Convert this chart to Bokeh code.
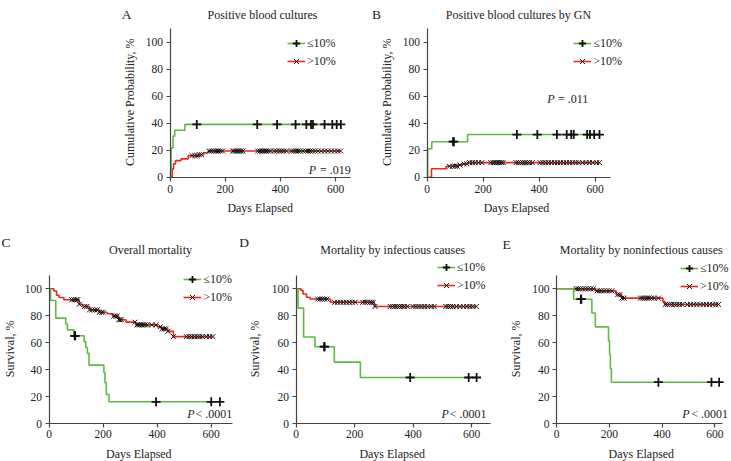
import numpy as np
from bokeh.plotting import figure
from bokeh.models import Range1d, Label, Legend, LegendItem
from bokeh.layouts import row, column
from bokeh.embed import file_html
from bokeh.resources import INLINE

FONT = "Liberation Serif"
GREEN = "#62b846"
RED = "#e8291c"
INK = "#222222"
AXC = "#444444"

LEG_LOW = "≤10%"
LEG_HIGH = ">10%"
X_TICKS = [0, 200, 400, 600]
Y_TICKS = [0, 20, 40, 60, 80, 100]

# ---- Panel A: Positive blood cultures (cumulative probability, %) ----
a_le_t = [0, 2, 4, 11, 17, 54]
a_le_v = [0, 4.3, 21.7, 30.4, 34.8, 39.1]
a_le_cens = [97, 316, 388, 455, 494, 511, 518, 560, 588, 604, 619]
a_gt_t = [0, 8, 13, 20, 40, 66, 105, 122, 138]
a_gt_v = [0, 6.2, 9.9, 12.3, 13.6, 16.0, 16.7, 18.1, 19.4]
a_gt_cens = [80, 90, 98, 106, 114, 142, 150, 158, 166, 174, 182, 190, 228, 234, 240,
             246, 252, 258, 264, 318, 326, 334, 340, 348, 356, 364, 378, 386, 396, 404,
             412, 422, 440, 448, 456, 464, 472, 482, 492, 500, 508, 516, 526, 536, 548,
             560, 572, 584, 596, 608, 618]

# ---- Panel B: Positive blood cultures by GN ----
b_le_t = [0, 2, 17, 145]
b_le_v = [0, 21.1, 26.3, 31.6]
b_le_cens = [93, 96, 321, 394, 464, 499, 515, 524, 572, 582, 597, 616]
b_gt_t = [0, 16, 68, 110, 125, 145]
b_gt_v = [0, 6.3, 8.1, 9.0, 9.9, 10.8]
b_gt_cens = [80, 92, 100, 108, 118, 132, 142, 152, 162, 172, 184, 196, 228, 236, 242,
             248, 254, 260, 266, 272, 318, 326, 334, 342, 350, 358, 366, 376, 404, 414,
             424, 434, 444, 456, 466, 476, 488, 498, 510, 520, 532, 542, 556, 568, 580,
             592, 606, 616]

# ---- Panel C: Overall mortality (survival, %) ----
c_le_t = [0, 6, 25, 62, 68, 92, 130, 136, 142, 148, 203, 207, 212, 222]
c_le_v = [100, 91.3, 78.3, 73.9, 69.6, 65.2, 60.9, 56.5, 52.2, 43.5, 38.0, 30.4, 21.7, 16.3]
c_le_cens = [95, 97, 396, 600, 632]
c_gt_t = [0, 18, 28, 37, 55, 112, 124, 150, 185, 215, 235, 258, 285, 320, 400, 415, 440, 460]
c_gt_v = [100, 98.4, 95.2, 93.6, 91.9, 88.6, 86.9, 84.4, 82.6, 81.5, 79.8, 77.1, 75.3,
          73.3, 71.9, 70.3, 68.5, 64.6]
c_gt_cens = [84, 92, 100, 106, 112, 132, 140, 150, 160, 170, 178, 186, 194, 200, 240,
             246, 252, 258, 262, 268, 318, 326, 332, 338, 344, 350, 356, 364, 380, 396,
             412, 418, 426, 432, 440, 460, 508, 518, 528, 538, 548, 558, 568, 582, 594, 606]

# ---- Panel D: Mortality by infectious causes ----
d_le_t = [0, 7, 26, 65, 131, 220]
d_le_v = [100, 85.7, 64.3, 57.1, 45.7, 34.3]
d_le_cens = [96, 98, 390, 590, 617]
d_gt_t = [0, 17, 24, 36, 48, 118, 268]
d_gt_v = [100, 98.7, 96.2, 93.7, 92.4, 90.0, 86.9]
d_gt_cens = [74, 82, 90, 98, 106, 132, 142, 152, 162, 172, 182, 192, 202, 228, 236,
             244, 252, 258, 264, 270, 322, 330, 338, 346, 354, 362, 370, 380, 400, 410,
             420, 430, 440, 450, 462, 472, 512, 520, 528, 536, 548, 560, 572, 584, 594,
             604, 616]

# ---- Panel E: Mortality by noninfectious causes ----
e_le_t = [0, 65, 134, 147, 197, 201, 204, 208]
e_le_v = [100, 92.3, 82.1, 71.8, 61.5, 51.3, 41.0, 30.8]
e_le_cens = [92, 94, 386, 587, 616]
e_gt_t = [0, 147, 226, 247, 403, 410]
e_gt_v = [100, 98.5, 95.7, 93.1, 90.6, 88.4]
e_gt_cens = [74, 82, 90, 100, 110, 120, 130, 140, 154, 162, 170, 180, 190, 200, 210,
             232, 240, 248, 256, 318, 326, 334, 342, 350, 360, 370, 386, 412, 420, 428,
             436, 446, 456, 466, 476, 496, 508, 520, 532, 544, 556, 568, 580, 592, 604, 614]


def value_at(times, values, days):
    idx = np.searchsorted(np.asarray(times), np.asarray(days), side="right") - 1
    return np.asarray(values, dtype=float)[idx]


def add_group(p, times, values, cens, color, marker, msize, mwidth):
    end = max(cens)
    xs = list(times) + [end]
    ys = list(values) + [values[-1]]
    line = p.step(xs, ys, mode="after", line_color=color, line_width=1.6)
    cy = value_at(times, values, cens)
    sc = p.scatter(cens, cy, marker=marker, size=msize, line_color="#111111",
                   line_width=mwidth, fill_color=None)
    return line, sc


def text(p, x, y, s, size="12px", align="center", style="normal", angle=0.0):
    p.add_layout(Label(x=x, y=y, text=s, text_font=FONT, text_font_size=size,
                       text_font_style=style, text_color=INK, text_align=align,
                       text_baseline="middle", angle=angle))


def panel(rect, geo, x_end, le, gt, spec):
    L, R, T, B = rect
    x0, kx, y0, ky = geo

    def X(px):
        return (px - x0) / kx

    def Y(py):
        return (y0 - py) / ky

    p = figure(width=R - L, height=B - T, output_backend="svg", toolbar_location=None,
               title=None, min_border=0, min_border_left=0, min_border_right=0,
               min_border_top=0, min_border_bottom=0,
               x_range=Range1d(X(L), X(R)), y_range=Range1d(Y(B), Y(T)))
    p.outline_line_color = None
    p.grid.visible = False
    p.background_fill_color = "white"
    p.border_fill_color = "white"

    for ax in (p.xaxis[0], p.yaxis[0]):
        ax.fixed_location = 0
        ax.axis_line_color = AXC
        ax.axis_line_width = 1.2
        ax.major_tick_line_color = AXC
        ax.major_tick_line_width = 1.2
        ax.major_tick_out = 4
        ax.major_tick_in = 0
        ax.minor_tick_line_color = None
        ax.major_label_text_font = FONT
        ax.major_label_text_font_size = "11.5px"
        ax.major_label_text_color = INK
    p.xaxis.ticker = X_TICKS
    p.yaxis.ticker = Y_TICKS
    p.xaxis.bounds = (0, x_end)
    p.yaxis.bounds = (0, 110)
    p.xaxis.major_label_standoff = spec["xstand"]
    p.yaxis.major_label_standoff = 3

    r_line, r_sc = add_group(p, gt[0], gt[1], gt[2], RED, "x", 7, 1.0)
    g_line, g_sc = add_group(p, le[0], le[1], le[2], GREEN, "cross", 9, 1.8)

    lgx, lgy, lsp = spec["legend"]
    leg = Legend(items=[LegendItem(label=LEG_LOW, renderers=[g_line, g_sc]),
                        LegendItem(label=LEG_HIGH, renderers=[r_line, r_sc])],
                 location=(lgx - L, B - lgy), orientation="vertical",
                 background_fill_alpha=0, border_line_color=None,
                 padding=0, margin=0, spacing=lsp,
                 glyph_width=18, glyph_height=18, label_height=18,
                 label_standoff=2, label_text_font=FONT,
                 label_text_font_size="12px", label_text_color=INK)
    p.add_layout(leg)

    lx, ly, ltxt = spec["letter"]
    text(p, X(lx), Y(ly), ltxt, size="13.5px")
    tx, ty, ttxt = spec["title"]
    text(p, X(tx), Y(ty), ttxt)
    yx, yy, ytxt = spec["ylabel"]
    text(p, X(yx), Y(yy), ytxt, angle=np.pi / 2)
    xx, xy = spec["xlabel"]
    text(p, X(xx), Y(xy), "Days Elapsed")
    px_, py_, ptxt, px2 = spec["pval"]
    text(p, X(px_), Y(py_), "P", align="left", style="italic")
    text(p, X(px2), Y(py_), ptxt, align="left")
    return p


YL_CUM = "Cumulative Probability, %"
YL_SURV = "Survival, %"

# geometry in pixels of the picture: rect = (left, right, top, bottom)
pA = panel((0, 362, 0, 215), (169.5, 0.276, 176.7, 1.35), 654,
           (a_le_t, a_le_v, a_le_cens), (a_gt_t, a_gt_v, a_gt_cens),
           dict(letter=(126, 14, "A"), title=(262, 14, "Positive blood cultures"),
                ylabel=(129, 101.7, YL_CUM), xlabel=(259.7, 207.5),
                legend=(287, 70.3, 0), pval=(308.3, 169.5, "= .019", 319.5), xstand=4))
pB = panel((362, 731, 0, 215), (426.5, 0.28, 176.7, 1.35), 655,
           (b_le_t, b_le_v, b_le_cens), (b_gt_t, b_gt_v, b_gt_cens),
           dict(letter=(376, 14, "B"), title=(518, 14, "Positive blood cultures by GN"),
                ylabel=(386.7, 101.7, YL_CUM), xlabel=(516, 207.5),
                legend=(573.3, 70.3, 0), pval=(546.7, 98.3, "= .011", 557.5), xstand=4))
pC = panel((0, 238, 215, 461), (48.5, 0.2704, 423.3, 1.35), 680,
           (c_le_t, c_le_v, c_le_cens), (c_gt_t, c_gt_v, c_gt_cens),
           dict(letter=(5.5, 242, "C"), title=(150, 249, "Overall mortality"),
                ylabel=(9.5, 348.3, YL_SURV), xlabel=(138.3, 453.3),
                legend=(183.3, 306, -1), pval=(186.7, 413.3, "< .0001", 195), xstand=2))
pD = panel((238, 495, 215, 461), (295.5, 0.2927, 423.3, 1.35), 664,
           (d_le_t, d_le_v, d_le_cens), (d_gt_t, d_gt_v, d_gt_cens),
           dict(letter=(243.5, 242, "D"), title=(392.2, 249.3, "Mortality by infectious causes"),
                ylabel=(254, 348.3, YL_SURV), xlabel=(391.7, 453.3),
                legend=(436.7, 294.3, -1), pval=(441, 413.3, "< .0001", 449.3), xstand=2))
pE = panel((495, 731, 215, 461), (556, 0.264, 423.3, 1.35), 629,
           (e_le_t, e_le_v, e_le_cens), (e_gt_t, e_gt_v, e_gt_cens),
           dict(letter=(506, 244, "E"), title=(640.8, 249, "Mortality by noninfectious causes"),
                ylabel=(515, 348.3, YL_SURV), xlabel=(640.8, 453.3),
                legend=(680, 295.3, -1), pval=(681.7, 413.3, "< .0001", 690.7), xstand=2))

top = row(pA, pB, spacing=0)
bottom = row(pC, pD, pE, spacing=0)
layout = column(top, bottom, spacing=0)

open("out.html", "w").write(file_html(layout, INLINE))
